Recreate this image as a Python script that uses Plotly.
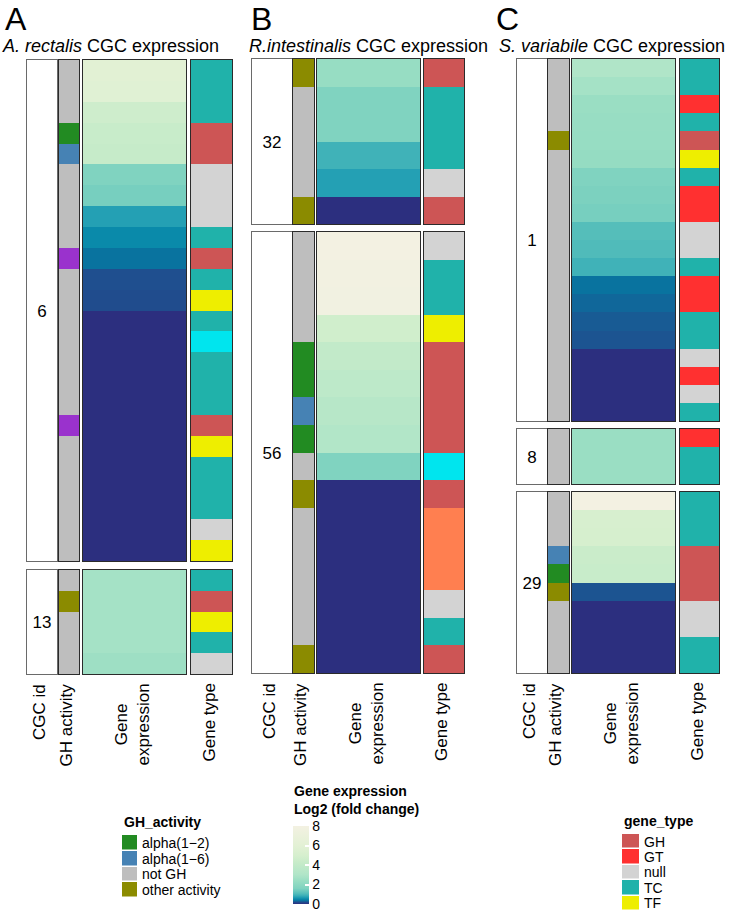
import plotly.graph_objects as go

W, H = 740, 913
FONT = "Liberation Sans, Arial, sans-serif"

# ---------------- categories & colours ----------------
GH_CATS = ["alpha(1−2)", "alpha(1−6)", "not GH", "other activity", "unlisted"]
GH_COLORS = ["#228B22", "#4682B4", "#BEBEBE", "#8B8B00", "#9A32CD"]
GH_LEGEND = ["alpha(1−2)", "alpha(1−6)", "not GH", "other activity"]

TYPE_CATS = ["GH", "GT", "null", "TC", "TF", "STP", "CE"]
TYPE_COLORS = ["#CD5555", "#FF3030", "#D3D3D3", "#20B2AA", "#EEEE00", "#00E5EE", "#FF7F50"]
TYPE_LEGEND = ["GH", "GT", "null", "TC", "TF"]

EXPR_TICKS = [0, 2, 4, 6, 8]

N, G12, G16, OT, PU = "not GH", "alpha(1−2)", "alpha(1−6)", "other activity", "unlisted"

# ---------------- Panel A: A. rectalis ----------------
A_cgc = ["6", "13"]
A_gh = [
    [N, N, N, G12, G16, N, N, N, N, PU, N, N, N, N, N, N, N, PU, N, N, N, N, N, N],
    [N, OT, N, N, N],
]
A_expr = [
    [5.9, 5.8, 4.6, 4.3, 4.2, 1.6, 1.5, 0.7, 0.5, 0.35, 0.2, 0.18,
     0, 0, 0, 0, 0, 0, 0, 0, 0, 0, 0, 0],
    [2.7, 2.7, 2.7, 2.7, 2.5],
]
A_type = [
    ["TC", "TC", "TC", "GH", "GH", "null", "null", "null", "TC", "GH", "TC", "TF",
     "TC", "STP", "TC", "TC", "TC", "GH", "TF", "TC", "TC", "TC", "null", "TF"],
    ["TC", "GH", "TF", "TC", "null"],
]

# ---------------- Panel B: R. intestinalis ----------------
B_cgc = ["32", "56"]
B_gh = [
    [OT, N, N, N, N, OT],
    [N, N, N, N, G12, G12, G16, G12, N, OT, N, N, N, N, N, OT],
]
B_expr = [
    [2.3, 1.6, 1.6, 0.9, 0.7, 0],
    [8.0, 7.9, 7.8, 4.7, 4.0, 3.7, 3.4, 3.1, 1.6, 0, 0, 0, 0, 0, 0, 0],
]
B_type = [
    ["GH", "TC", "TC", "TC", "null", "GH"],
    ["null", "TC", "TC", "TF", "GH", "GH", "GH", "GH", "STP", "GH",
     "CE", "CE", "CE", "null", "TC", "GH"],
]

# ---------------- Panel C: S. variabile ----------------
C_cgc = ["1", "8", "29"]
C_gh = [
    [N, N, N, N, OT, N, N, N, N, N, N, N, N, N, N, N, N, N, N, N],
    [N, N, N],
    [N, N, N, G16, G12, OT, N, N, N, N],
]
C_expr = [
    [3.0, 2.7, 2.4, 2.35, 2.3, 2.25, 1.6, 1.55, 1.5, 1.1, 1.05, 0.9,
     0.35, 0.3, 0.25, 0.22, 0, 0, 0, 0],
    [2.4, 2.4, 2.4],
    [8.0, 5.1, 5.0, 4.4, 4.3, 0.22, 0, 0, 0, 0],
]
C_type = [
    ["TC", "TC", "GT", "TC", "GH", "TF", "TC", "GT", "GT", "null", "null", "TC",
     "GT", "GT", "TC", "TC", "null", "GT", "null", "TC"],
    ["GT", "TC", "TC"],
    ["TC", "TC", "TC", "GH", "GH", "GH", "null", "null", "TC", "TC"],
]

# expression colour scale (value, colour)
EXPR_STOPS = [
    (0.0, "#2C2F7F"), (0.2, "#1F4F8F"), (0.35, "#09739F"), (0.5, "#0A8AAA"),
    (0.7, "#24A0B4"), (0.9, "#40B2B8"), (1.1, "#55BEBA"), (1.6, "#80D3C0"),
    (2.4, "#9ADEC3"), (3.0, "#B0E5C8"), (4.2, "#C6EBC9"), (5.0, "#D6EFCE"),
    (6.0, "#E3F1D5"), (8.0, "#F3F1E2"),
]

# ---------------- layout geometry (pixels) ----------------
PANELS = [
    dict(letter="A", lx=3, title="<i>A. rectalis</i> CGC expression", tx=0,
         cols=[(27, 57), (59, 79), (83, 186), (191, 232)],
         blocks=[(60, 561), (570, 674)],
         cgc=A_cgc, gh=A_gh, expr=A_expr, gtype=A_type),
    dict(letter="B", lx=249, title="<i>R.intestinalis</i> CGC expression", tx=247,
         cols=[(252, 292), (293, 314), (317, 420), (424, 464)],
         blocks=[(59, 224), (232, 673)],
         cgc=B_cgc, gh=B_gh, expr=B_expr, gtype=B_type),
    dict(letter="C", lx=494, title="<i>S. variabile</i> CGC expression", tx=497,
         cols=[(517, 547), (548, 569), (572, 675), (680, 719)],
         blocks=[(59, 421), (429, 484), (492, 673)],
         cgc=C_cgc, gh=C_gh, expr=C_expr, gtype=C_type),
]
COL_LABELS = ["CGC id", "GH activity", "Gene<br>expression", "Gene type"]


def pxx(x):
    return x / W


def pyy(y):
    return 1 - y / H


def step_scale(colors):
    k = len(colors)
    sc = []
    for i, c in enumerate(colors):
        sc.append([i / k, c])
        sc.append([(i + 1) / k, c])
    return sc


GH_SCALE = step_scale(GH_COLORS)
TYPE_SCALE = step_scale(TYPE_COLORS)
EXPR_SCALE = [[v / 8.0, c] for v, c in EXPR_STOPS]

fig = go.Figure()
layout_axes = {}
annotations = []
ax_i = [0]


def new_axes(xd, yd, n, linecolor="#2b2b2b"):
    ax_i[0] += 1
    i = ax_i[0]
    xs = "" if i == 1 else str(i)
    common = dict(showticklabels=False, ticks="", showgrid=False, zeroline=False,
                  showline=True, mirror=True, linecolor=linecolor, linewidth=1.4,
                  fixedrange=True)
    layout_axes["xaxis" + xs] = dict(domain=[pxx(xd[0]), pxx(xd[1])], anchor="y" + xs,
                                     range=[-0.5, 0.5], **common)
    layout_axes["yaxis" + xs] = dict(domain=[pyy(yd[1]), pyy(yd[0])], anchor="x" + xs,
                                     range=[n - 0.5, -0.5], **common)
    return "x" + xs, "y" + xs


for p in PANELS:
    for b, (y0, y1) in enumerate(p["blocks"]):
        n = len(p["expr"][b])
        rows = list(range(n))
        # CGC id
        xa, ya = new_axes(p["cols"][0], (y0, y1), 1, linecolor="#6a6a6a")
        fig.add_trace(go.Heatmap(z=[[0]], x=[0], y=[0], xaxis=xa, yaxis=ya,
                                 colorscale=[[0, "white"], [1, "white"]], showscale=False,
                                 text=[[p["cgc"][b]]], texttemplate="%{text}",
                                 textfont=dict(size=17, color="black", family=FONT),
                                 hoverinfo="skip"))
        # GH activity
        xa, ya = new_axes(p["cols"][1], (y0, y1), n)
        fig.add_trace(go.Heatmap(z=[[GH_CATS.index(g)] for g in p["gh"][b]], x=[0], y=rows,
                                 xaxis=xa, yaxis=ya, colorscale=GH_SCALE,
                                 zmin=-0.5, zmax=len(GH_CATS) - 0.5, showscale=False,
                                 hoverinfo="skip"))
        # Gene expression
        xa, ya = new_axes(p["cols"][2], (y0, y1), n)
        fig.add_trace(go.Heatmap(z=[[v] for v in p["expr"][b]], x=[0], y=rows,
                                 xaxis=xa, yaxis=ya, coloraxis="coloraxis",
                                 hoverinfo="skip"))
        # Gene type
        xa, ya = new_axes(p["cols"][3], (y0, y1), n)
        fig.add_trace(go.Heatmap(z=[[TYPE_CATS.index(t)] for t in p["gtype"][b]], x=[0], y=rows,
                                 xaxis=xa, yaxis=ya, colorscale=TYPE_SCALE,
                                 zmin=-0.5, zmax=len(TYPE_CATS) - 0.5, showscale=False,
                                 hoverinfo="skip"))
    # panel letter & title
    annotations.append(dict(text=p["letter"], x=pxx(p["lx"]), y=pyy(19), xref="paper", yref="paper",
                            xanchor="left", yanchor="middle", showarrow=False,
                            font=dict(size=32, family=FONT, color="black")))
    annotations.append(dict(text=p["title"], x=pxx(p["tx"]), y=pyy(46), xref="paper", yref="paper",
                            xanchor="left", yanchor="middle", showarrow=False,
                            font=dict(size=18, family=FONT, color="black")))
    bottom = p["blocks"][-1][1]
    for (c0, c1), lab in zip(p["cols"], COL_LABELS):
        annotations.append(dict(text=lab, x=pxx((c0 + c1) / 2 - 3), y=pyy(bottom + 8),
                                xref="paper", yref="paper", xanchor="center", yanchor="top",
                                textangle=-90, showarrow=False, align="center",
                                font=dict(size=17, family=FONT, color="black")))

# ---------------- legends ----------------
def legend_block(cats, all_cats, scale, xd, yd, title):
    ax_i[0] += 1
    i = ax_i[0]
    xs = str(i)
    layout_axes["xaxis" + xs] = dict(domain=[pxx(xd[0]), pxx(xd[1])], anchor="y" + xs,
                                     visible=False, range=[-0.5, 0.5], fixedrange=True)
    layout_axes["yaxis" + xs] = dict(domain=[pyy(yd[1]), pyy(yd[0])], anchor="x" + xs,
                                     side="right", showgrid=False, zeroline=False, showline=False,
                                     ticks="", ticklabelstandoff=4, autorange="reversed",
                                     type="category", tickmode="array", tickvals=cats, ticktext=cats,
                                     tickfont=dict(size=14, family=FONT, color="black"),
                                     fixedrange=True)
    fig.add_trace(go.Heatmap(z=[[all_cats.index(c)] for c in cats], x=[0], y=cats,
                             xaxis="x" + xs, yaxis="y" + xs, colorscale=scale,
                             zmin=-0.5, zmax=len(all_cats) - 0.5, showscale=False,
                             ygap=1.5, hoverinfo="skip"))
    annotations.append(dict(text="<b>" + title + "</b>", x=pxx(xd[0]), y=pyy(yd[0] - 13),
                            xref="paper", yref="paper", xanchor="left", yanchor="middle",
                            showarrow=False, font=dict(size=14, family=FONT, color="black")))


legend_block(GH_LEGEND, GH_CATS, GH_SCALE, (122, 137), (835, 898), "GH_activity")
legend_block(TYPE_LEGEND, TYPE_CATS, TYPE_SCALE, (622, 639), (834, 911), "gene_type")

annotations.append(dict(text="<b>Gene expression<br>Log2 (fold change)</b>", x=pxx(292), y=pyy(819),
                        xref="paper", yref="paper", xanchor="left", yanchor="bottom", align="left",
                        showarrow=False, font=dict(size=14, family=FONT, color="black")))

fig.update_layout(
    width=W, height=H, margin=dict(l=0, r=0, t=0, b=0),
    paper_bgcolor="white", plot_bgcolor="white",
    showlegend=False, annotations=annotations,
    coloraxis=dict(colorscale=EXPR_SCALE, cmin=0, cmax=8,
                   colorbar=dict(x=pxx(293), xanchor="left", xref="paper",
                                 y=pyy(904), yanchor="bottom", yref="paper",
                                 len=78 / H, lenmode="fraction",
                                 thickness=16, thicknessmode="pixels",
                                 outlinewidth=0, xpad=0, ypad=0,
                                 tickvals=EXPR_TICKS, ticks="inside", ticklen=4,
                                 tickcolor="white", tickwidth=1.5,
                                 ticklabeloverflow="allow",
                                 tickfont=dict(size=14, family=FONT, color="black"))),
    **layout_axes,
)

fig.write_html("out.html")
